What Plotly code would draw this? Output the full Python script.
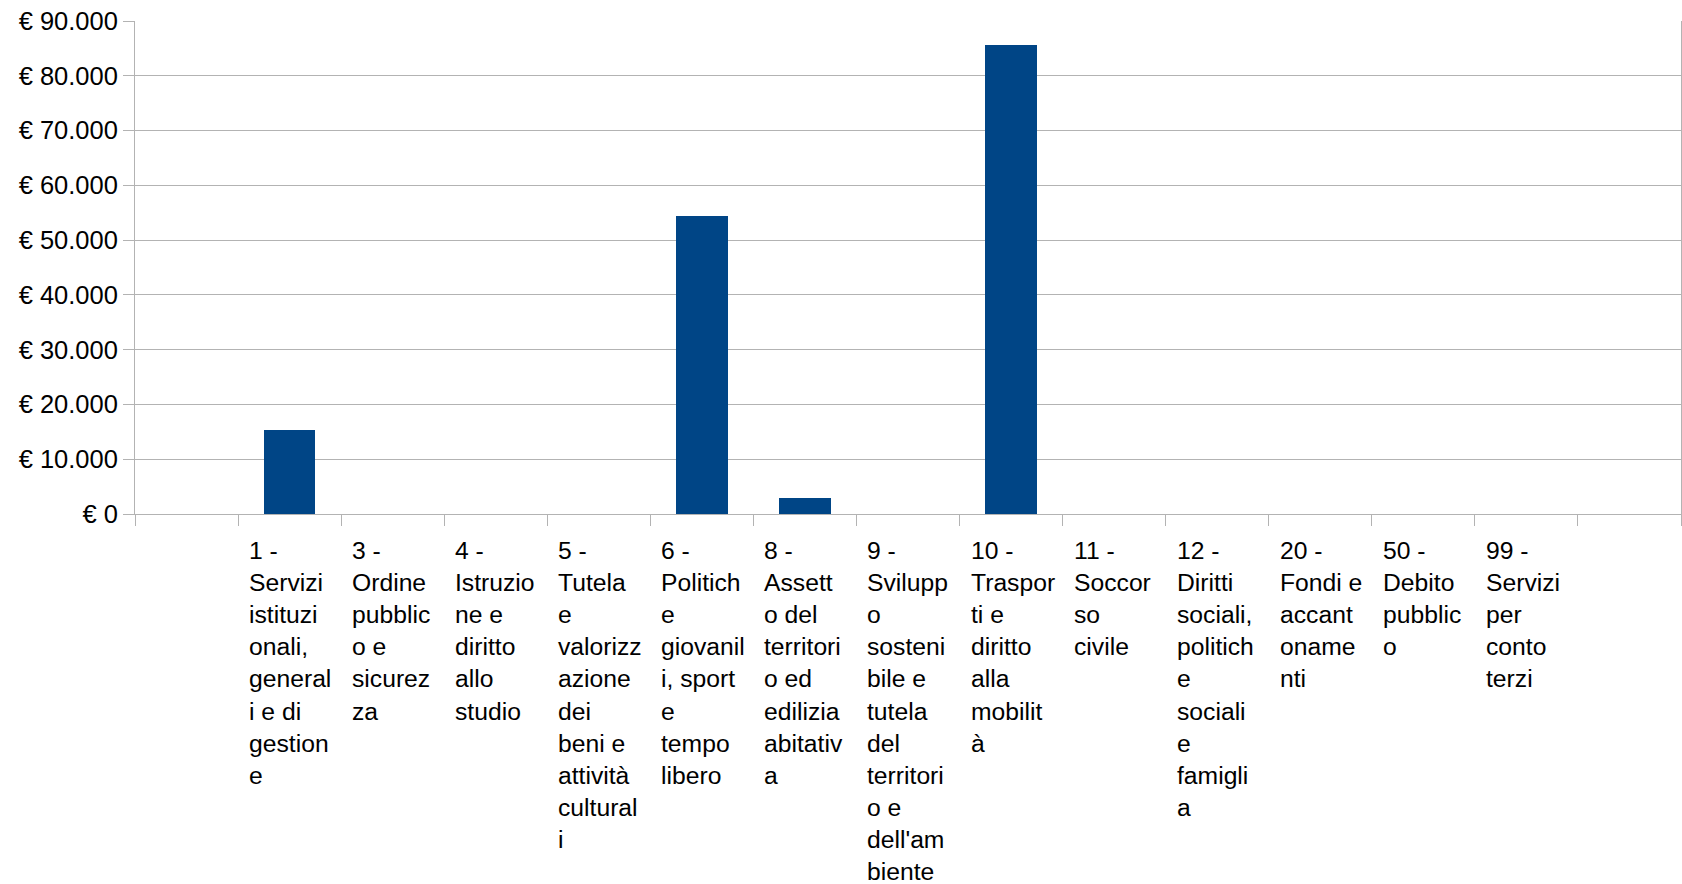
import plotly.graph_objects as go

# --- data ---
categories = [
    "1 - Servizi istituzionali, generali e di gestione",
    "3 - Ordine pubblico e sicurezza",
    "4 - Istruzione e diritto allo studio",
    "5 - Tutela e valorizzazione dei beni e attività culturali",
    "6 - Politiche giovanili, sport e tempo libero",
    "8 - Assetto del territorio ed edilizia abitativa",
    "9 - Sviluppo sostenibile e tutela del territorio e dell'ambiente",
    "10 - Trasporti e diritto alla mobilità",
    "11 - Soccorso civile",
    "12 - Diritti sociali, politiche sociali e famiglia",
    "20 - Fondi e accantonamenti",
    "50 - Debito pubblico",
    "99 - Servizi per conto terzi",
]
tick_labels = [
    "1 -<br>Servizi<br>istituzi<br>onali,<br>general<br>i e di<br>gestion<br>e",
    "3 -<br>Ordine<br>pubblic<br>o e<br>sicurez<br>za",
    "4 -<br>Istruzio<br>ne e<br>diritto<br>allo<br>studio",
    "5 -<br>Tutela<br>e<br>valorizz<br>azione<br>dei<br>beni e<br>attività<br>cultural<br>i",
    "6 -<br>Politich<br>e<br>giovanil<br>i, sport<br>e<br>tempo<br>libero",
    "8 -<br>Assett<br>o del<br>territori<br>o ed<br>edilizia<br>abitativ<br>a",
    "9 -<br>Svilupp<br>o<br>sosteni<br>bile e<br>tutela<br>del<br>territori<br>o e<br>dell'am<br>biente",
    "10 -<br>Traspor<br>ti e<br>diritto<br>alla<br>mobilit<br>à",
    "11 -<br>Soccor<br>so<br>civile",
    "12 -<br>Diritti<br>sociali,<br>politich<br>e<br>sociali<br>e<br>famigli<br>a",
    "20 -<br>Fondi e<br>accant<br>oname<br>nti",
    "50 -<br>Debito<br>pubblic<br>o",
    "99 -<br>Servizi<br>per<br>conto<br>terzi",
]
values = [15300, 0, 0, 0, 54400, 3000, 0, 85700, 0, 0, 0, 0, 0]
y_ticks = [0, 10000, 20000, 30000, 40000, 50000, 60000, 70000, 80000, 90000]
y_tick_text = ["€ " + f"{v:,}".replace(",", ".") for v in y_ticks]

# slot index on the axis (one empty slot before and after the categories)
positions = [i + 2 for i in range(len(categories))]
n_slots = len(categories) + 2

FONT = "Liberation Sans, Arial, sans-serif"
GRID = "#b3b3b3"

fig = go.Figure()
fig.add_trace(go.Bar(
    x=positions, y=values, width=0.5,
    marker=dict(color="#004586", line=dict(width=0)),
    hovertext=categories, showlegend=False,
))

for p, lab in zip(positions, tick_labels):
    fig.add_annotation(
        x=p - 0.5, y=0, xref="x", yref="y",
        text=lab, showarrow=False, align="left",
        xanchor="left", yanchor="top", xshift=9, yshift=-21,
        font=dict(family=FONT, size=24.7, color="#000000"),
    )

fig.update_layout(
    template="none",
    width=1682, height=884,
    margin=dict(l=135, r=1, t=21, b=370, pad=0),
    paper_bgcolor="white", plot_bgcolor="white",
    bargap=0,
    font=dict(family=FONT, size=25, color="#000000"),
)
fig.update_xaxes(
    range=[0.5, n_slots + 0.5],
    tickvals=[k + 0.5 for k in range(n_slots + 1)],
    showticklabels=False,
    ticks="outside", ticklen=11, tickcolor=GRID, tickwidth=1,
    showgrid=False, zeroline=False,
    showline=True, linecolor=GRID, linewidth=1,
    automargin=False,
)
fig.update_yaxes(
    range=[0, 90000],
    tickmode="array", tickvals=y_ticks, ticktext=y_tick_text,
    ticks="outside", ticklen=11, tickcolor=GRID, tickwidth=1,
    tickfont=dict(family=FONT, size=25.5, color="#000000"),
    showgrid=True, gridcolor=GRID, gridwidth=1,
    zeroline=False,
    showline=True, mirror=True, linecolor=GRID, linewidth=1,
    automargin=False,
)

# remove the default 8px page margin so the figure fills the window exactly
fig.write_html(
    "out.html",
    config={"displayModeBar": False},
    post_script="document.body.style.margin='0';",
)
